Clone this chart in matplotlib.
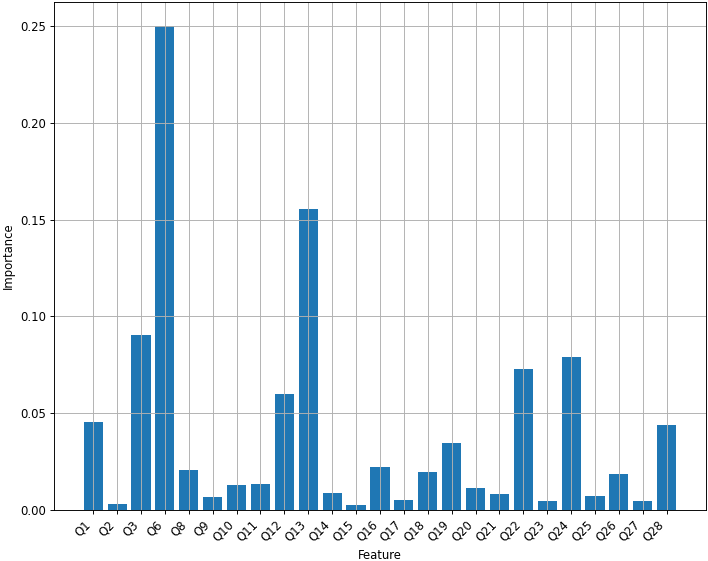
import matplotlib
matplotlib.use('Agg')
import matplotlib.pyplot as plt

# データ
features = ['Q1', 'Q2', 'Q3', 'Q6', 'Q8', 'Q9', 'Q10', 'Q11', 'Q12', 'Q13',
            'Q14', 'Q15', 'Q16', 'Q17', 'Q18', 'Q19', 'Q20', 'Q21', 'Q22',
            'Q23', 'Q24', 'Q25', 'Q26', 'Q27', 'Q28']
importance = [0.0455, 0.003, 0.0906, 0.25, 0.0207, 0.0067, 0.0129, 0.0135,
              0.060, 0.1558, 0.0088, 0.0026, 0.0223, 0.0052, 0.0197, 0.0347,
              0.0114, 0.0083, 0.073, 0.0047, 0.0792, 0.0072, 0.0186, 0.0047,
              0.044]

# 元画像は少し拡大されているので dpi を上げて文字と線を大きくする
dpi = 84
fig = plt.figure(figsize=(708/dpi, 561/dpi), dpi=dpi)
ax = fig.add_axes([0.0763, 0.0909, 0.9207, 0.9055])

x = range(len(features))
ax.bar(x, importance, width=0.8, color='#1f77b4')
ax.set_xticks(list(x))
ax.set_xticklabels(features, rotation=45, ha='right')
ax.grid(True)
ax.set_xlabel('Feature')
ax.set_ylabel('Importance')

fig.savefig('out.png', dpi=dpi)
